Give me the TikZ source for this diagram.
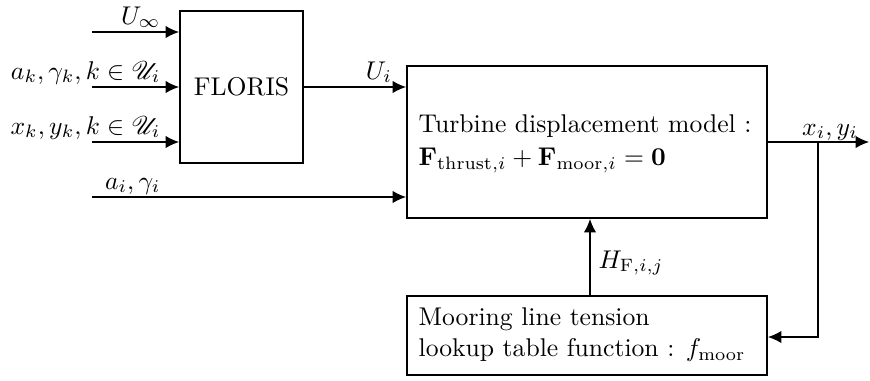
\documentclass[tikz,border=0pt]{standalone}
\usepackage{amsmath}
\usepackage{mathrsfs}
\usetikzlibrary{arrows.meta}
\begin{document}
\begin{tikzpicture}[x=0.39pt,y=-0.39pt,
  line width=0.5pt,
  block/.style={draw, line width=0.75pt, inner sep=0pt},
  flow/.style={-{Latex[length=5.2pt,width=4.8pt]}},
  lbl/.style={inner sep=0pt, font=\normalsize}]
\useasboundingbox (0,0) rectangle (870,380);

% blocks
\node[block, minimum width=47.97pt, minimum height=59.28pt] (floris) at (241.5,87) {FLORIS};
\node[block, minimum width=140.4pt, minimum height=59.28pt] (tdm) at (587,142) {};
\node[lbl, anchor=west, align=left] (tdmtext) at (418,144)
  {Turbine displacement model :\\[1pt] $\mathbf{F}_{\mathrm{thrust},i}+\mathbf{F}_{\mathrm{moor},i}=\mathbf{0}$};
\node[block, minimum width=140.4pt, minimum height=30.8pt] (moor) at (587,335.5) {};
\node[lbl, anchor=west, align=left] (moortext) at (418,334.5)
  {Mooring line tension\\ lookup table function : $f_{\mathrm{moor}}$};

% free ends of the inputs
\coordinate (inU) at (92,32);
\coordinate (inA) at (92,87);
\coordinate (inX) at (92,142);
\coordinate (inAi) at (92,197);
\coordinate (outEnd) at (869,142);
\coordinate (branch) at (818,142);

% inputs to FLORIS
\draw[flow] (inU) -- (inU -| floris.west);
\draw[flow] (inA) -- (inA -| floris.west);
\draw[flow] (inX) -- (inX -| floris.west);
\node[lbl, anchor=base east] (lU) at (161,24) {$U_\infty$};
\node[lbl, anchor=base east] (lA) at (161,79) {$a_k,\gamma_k,k\in\mathscr{U}_i$};
\node[lbl, anchor=base east] (lX) at (161,134) {$x_k,y_k,k\in\mathscr{U}_i$};

% inputs to the displacement model
\draw[flow] (floris.east |- 0,87) -- (tdm.west |- 0,87);
\node[lbl, anchor=base] (lUi) at (379,79) {$U_i$};
\draw[flow] (inAi) -- (inAi -| tdm.west);
\node[lbl, anchor=base east] (lAi) at (161,189) {$a_i,\gamma_i$};

% output and feedback
\draw[flow] (tdm.east |- outEnd) -- (outEnd);
\node[lbl, anchor=base] (lxy) at (830,135) {$x_i,y_i$};
\draw[flow] (branch) |- (moor.east |- 0,337);
\draw[flow] (moor.north -| 590,0) -- (tdm.south -| 590,0);
\node[lbl, anchor=west] (lH) at (598,263) {$H_{\mathrm{F},i,j}$};
\end{tikzpicture}
\end{document}
